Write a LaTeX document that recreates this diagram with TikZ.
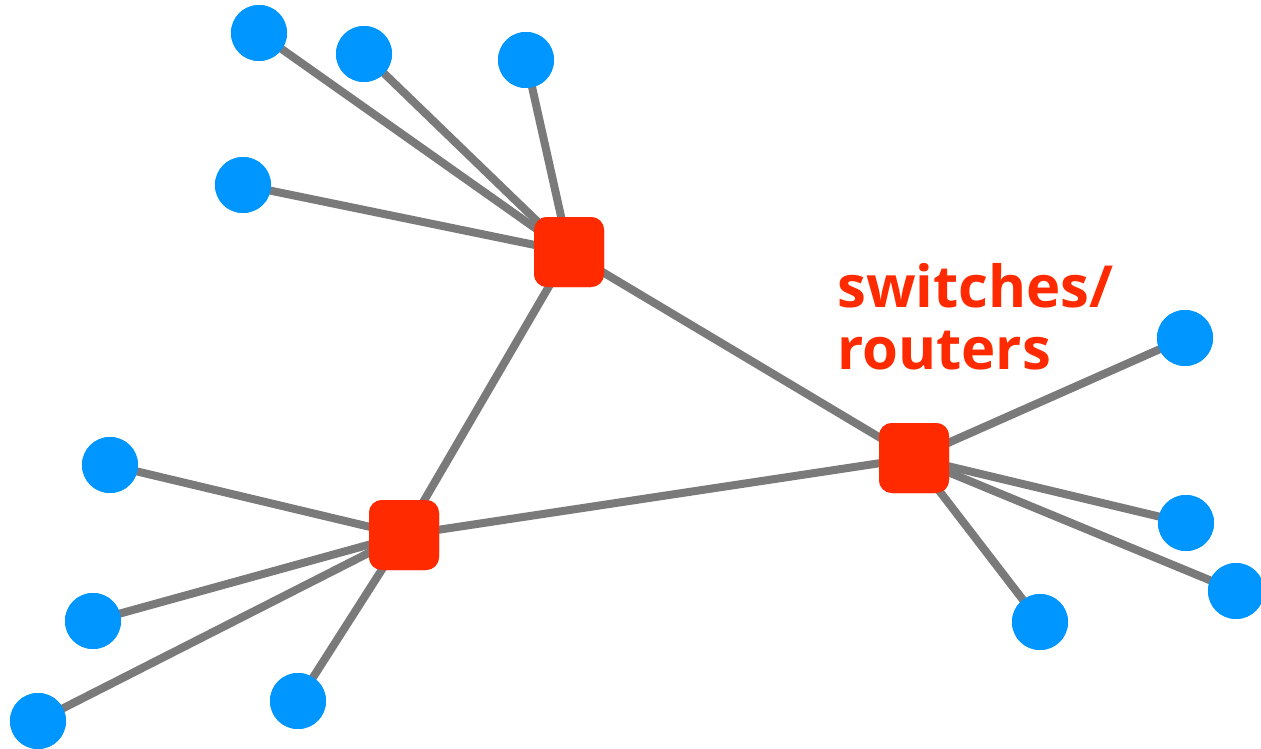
\documentclass[tikz,border=0pt]{standalone}
\usepackage{fontspec}
\setmainfont{Open Sans}
\definecolor{hostblue}{HTML}{0096FF}
\definecolor{routred}{HTML}{FF2A00}
\definecolor{linkgray}{HTML}{7A7A7A}
\begin{document}
\begin{tikzpicture}[x=1pt,y=-1pt,
  host/.style={circle,fill=hostblue,minimum size=56pt,inner sep=0pt},
  router/.style={rectangle,rounded corners=13pt,fill=routred,minimum size=70pt,inner sep=0pt},
  link/.style={draw=linkgray,line width=8pt}]
\path[use as bounding box] (0,0) rectangle (1261,749);
% routers
\node[router] (r1) at (569,252) {};
\node[router] (r2) at (404,535) {};
\node[router] (r3) at (914,458) {};
% hosts
\node[host] (h1) at (259,33) {};
\node[host] (h2) at (364,54) {};
\node[host] (h3) at (526,60) {};
\node[host] (h4) at (243,185) {};
\node[host] (h5) at (110,465) {};
\node[host] (h6) at (93,621) {};
\node[host] (h7) at (38,721) {};
\node[host] (h8) at (298,701) {};
\node[host] (h9) at (1185,338) {};
\node[host] (h10) at (1186,523) {};
\node[host] (h11) at (1236,591) {};
\node[host] (h12) at (1040,622) {};
% links
\foreach \a/\b in {r1/h1,r1/h2,r1/h3,r1/h4,r1/r3,r1/r2,r2/h5,r2/h6,r2/h7,r2/h8,r2/r3,r3/h9,r3/h10,r3/h11,r3/h12}
  \path[link] (\a.center) -- (\b.center);
% redraw nodes on top
\node[router] at (r1) {};
\node[router] at (r2) {};
\node[router] at (r3) {};
\foreach \h in {h1,h2,h3,h4,h5,h6,h7,h8,h9,h10,h11,h12}
  \node[host] at (\h) {};
\node[anchor=base west,inner sep=0pt,align=left,text=routred,
  font=\fontsize{58}{62}\selectfont\bfseries] (lbl) at (837,369) {switches/\\routers};
\end{tikzpicture}
\end{document}
